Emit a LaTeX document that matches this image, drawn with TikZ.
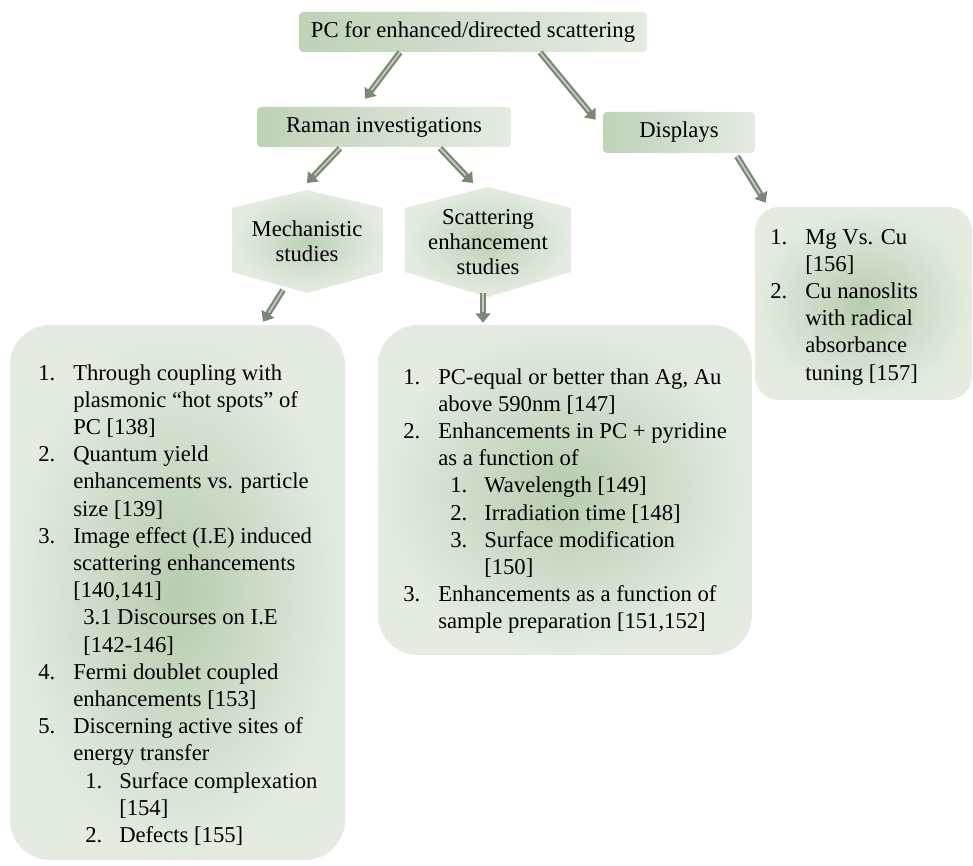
\documentclass[tikz,border=0pt]{standalone}
\usepackage{fontspec}
\setmainfont{Liberation Serif}
\usetikzlibrary{arrows.meta,calc}
\definecolor{gdark}{RGB}{182,204,175}
\definecolor{gmid}{RGB}{190,210,184}
\definecolor{glight}{RGB}{228,236,225}
\definecolor{arrc}{RGB}{122,136,118}
\definecolor{arrl}{RGB}{196,206,192}
\newcommand\mk[1]{\makebox[26.25pt][l]{#1}}
\newcommand\sk[1]{\makebox[25.5pt][l]{#1}}
\newcommand\ind{\hspace*{26.25pt}}
\begin{document}
\begin{tikzpicture}[x=0.75pt,y=-0.75pt,font=\fontsize{17pt}{20.4pt}\selectfont]
\tikzset{
  box/.style={rounded corners=3pt, left color=gmid, right color=glight, draw=none, inner sep=0pt},
  lstbox/.style={rounded corners=30pt, inner color=gdark, outer color=glight, draw=none, inner sep=0pt},
  hexs/.style={inner color=gmid, outer color=glight, draw=none},
  lsttext/.style={anchor=base west, inner sep=0pt},
  hextext/.style={align=center, inner sep=0pt, font=\fontsize{17pt}{18.6pt}\selectfont},
  arr/.style={line width=4.6pt, draw=arrc, -{Triangle[length=7pt,width=11pt]},
    postaction={draw=arrl, line width=1.3pt, shorten >=8pt, -}},
}
\useasboundingbox (0,0) rectangle (973,866);

% top level boxes
\node[box, minimum width=261pt, minimum height=30pt] (top) at (473,32) {PC for enhanced/directed scattering};
\node[box, minimum width=190.5pt, minimum height=30pt] (raman) at (384,127) {Raman investigations};
\node[box, minimum width=114pt, minimum height=30.75pt] (disp) at (679,132.5) {Displays};

% hexagons
\path[hexs] (232,208) -- (307,190) -- (383,208) -- (383,272) -- (307,293) -- (232,272) -- cycle;
\coordinate (mechtop) at (307,190);
\coordinate (mechbot) at (307,293);
\node[hextext] (mech) at (307,241.5) {Mechanistic\\studies};

\path[hexs] (405,208) -- (488,187) -- (571,208) -- (571,272) -- (488,297) -- (405,272) -- cycle;
\coordinate (scattop) at (488,187);
\coordinate (scatbot) at (488,297);
\node[hextext] (scat) at (488,242) {Scattering\\enhancement\\studies};

% list boxes
\node[lstbox, minimum width=251.25pt, minimum height=401.25pt] (lbox) at (177.5,592.5) {};
\node[lstbox, minimum width=280.5pt, minimum height=247.5pt] (mbox) at (565,490) {};
\node[lstbox, rounded corners=18pt, minimum width=162.75pt, minimum height=144.75pt] (rbox) at (863.5,303.5) {};

\node[lsttext] (ltext) at (38,380) {\vtop{\baselineskip=20.4pt
\hbox{\mk{1.}Through coupling with}
\hbox{\ind plasmonic “hot spots” of}
\hbox{\ind PC [138]}
\hbox{\mk{2.}Quantum yield}
\hbox{\ind enhancements vs. particle}
\hbox{\ind size [139]}
\hbox{\mk{3.}Image effect (I.E) induced}
\hbox{\ind scattering enhancements}
\hbox{\ind [140,141]}
\hbox{\hspace*{33.75pt}3.1 Discourses on I.E}
\hbox{\hspace*{33.75pt}[142-146]}
\hbox{\mk{4.}Fermi doublet coupled}
\hbox{\ind enhancements [153]}
\hbox{\mk{5.}Discerning active sites of}
\hbox{\ind energy transfer}
\hbox{\hspace*{35.25pt}\sk{1.}Surface complexation}
\hbox{\hspace*{60.75pt}[154]}
\hbox{\hspace*{35.25pt}\sk{2.}Defects [155]}}};

\node[lsttext] (mtext) at (403,384) {\vtop{\baselineskip=20.4pt
\hbox{\mk{1.}PC-equal or better than Ag, Au}
\hbox{\ind above 590nm [147]}
\hbox{\mk{2.}Enhancements in PC + pyridine}
\hbox{\ind as a function of}
\hbox{\hspace*{35.25pt}\sk{1.}Wavelength [149]}
\hbox{\hspace*{35.25pt}\sk{2.}Irradiation time [148]}
\hbox{\hspace*{35.25pt}\sk{3.}Surface modification}
\hbox{\hspace*{60.75pt}[150]}
\hbox{\mk{3.}Enhancements as a function of}
\hbox{\ind sample preparation [151,152]}}};

\node[lsttext] (rtext) at (770,244) {\vtop{\baselineskip=20.4pt
\hbox{\mk{1.}Mg Vs. Cu}
\hbox{\ind [156]}
\hbox{\mk{2.}Cu nanoslits}
\hbox{\ind with radical}
\hbox{\ind absorbance}
\hbox{\ind tuning [157]}}};

% arrows
\draw[arr] ($(top.south)+(-73,0)$) -- ($(raman.north)+(-19,-8)$);
\draw[arr] ($(top.south)+(67,0)$) -- ($(disp.north west)+(-7,8)$);
\draw[arr] ($(disp.south)+(58,3)$) -- ($(rbox.north west)+(11,-4)$);
\draw[arr] ($(raman.south)+(-44,1)$) -- ($(mechtop)+(0,-7)$);
\draw[arr] ($(raman.south)+(56,1)$) -- ($(scattop)+(-15,-4)$);
\draw[arr] ($(mechbot)+(-24,-3)$) -- ($(lbox.north)+(85.5,-3)$);
\draw[arr] ($(scatbot)+(-5,-4)$) -- ($(mbox.north)+(-82,-2)$);
\end{tikzpicture}
\end{document}
